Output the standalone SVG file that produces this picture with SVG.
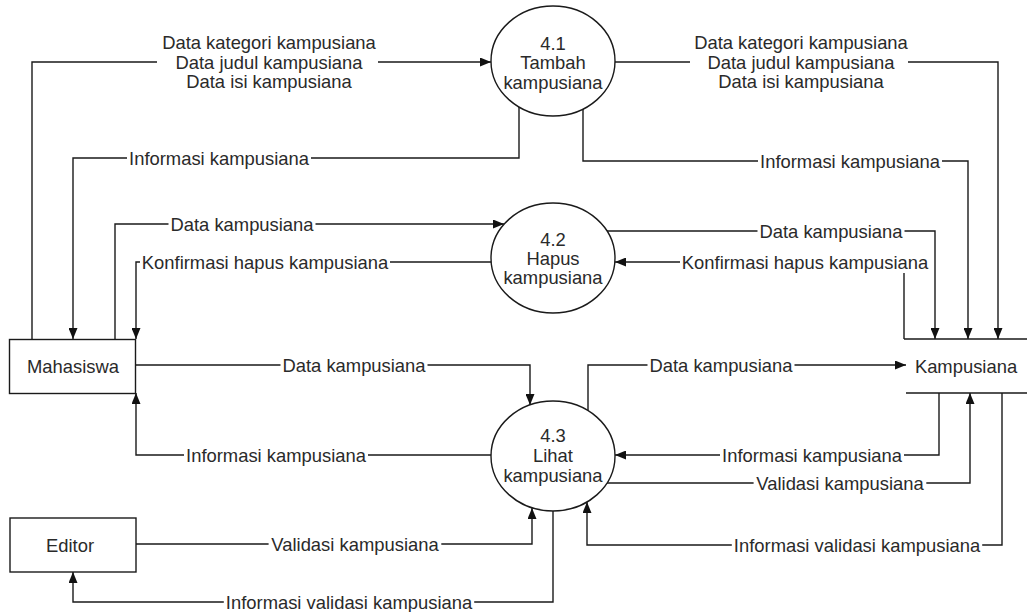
<svg xmlns="http://www.w3.org/2000/svg" width="1027" height="612" viewBox="0 0 1027 612">
<style>
.ln{fill:none;stroke:#1a1a1a;stroke-width:1.4}
.nd{fill:#fff;stroke:#1a1a1a;stroke-width:1.4}
.bg{fill:#fff}
.t{font-family:"Liberation Sans",Arial,sans-serif;font-size:18.4px;fill:#2a2a2a;text-anchor:middle}
</style>
<defs>
<marker id="ah" markerWidth="11" markerHeight="9" refX="11" refY="4.5" orient="auto" markerUnits="userSpaceOnUse"><path d="M0,0 L11,4.5 L0,9 z" fill="#111"/></marker>
</defs>
<rect width="1027" height="612" fill="#fff"/>
<g id="connectors">
<path class="ln" d="M32,339 V62 H157 M378,62 H491" marker-end="url(#ah)"/>
<path class="ln" d="M519,107 V158 H73 V339" marker-end="url(#ah)"/>
<path class="ln" d="M615,62 H690 M908,62 H998 V339" marker-end="url(#ah)"/>
<path class="ln" d="M583,109 V161 H968 V339" marker-end="url(#ah)"/>
<path class="ln" d="M115,339 V224 H504" marker-end="url(#ah)"/>
<path class="ln" d="M491,262 H136 V339" marker-end="url(#ah)"/>
<path class="ln" d="M607,231 H935 V339" marker-end="url(#ah)"/>
<path class="ln" d="M904,339 V262 H615" marker-end="url(#ah)"/>
<path class="ln" d="M136,365 H530 V405" marker-end="url(#ah)"/>
<path class="ln" d="M588,411 V365 H906" marker-end="url(#ah)"/>
<path class="ln" d="M491,455 H136 V393" marker-end="url(#ah)"/>
<path class="ln" d="M939,393 V455 H615" marker-end="url(#ah)"/>
<path class="ln" d="M607,483 H970 V393" marker-end="url(#ah)"/>
<path class="ln" d="M1002,393 V545 H587 V502" marker-end="url(#ah)"/>
<path class="ln" d="M136,544 H532 V508" marker-end="url(#ah)"/>
<path class="ln" d="M553,511 V602 H73 V572" marker-end="url(#ah)"/>
<g id="label-bg">
<rect class="bg" x="127" y="153" width="184" height="10"/>
<rect class="bg" x="758" y="156" width="184" height="10"/>
<rect class="bg" x="168.5" y="219" width="147" height="10"/>
<rect class="bg" x="140" y="257" width="250" height="10"/>
<rect class="bg" x="757.5" y="226" width="147" height="10"/>
<rect class="bg" x="680" y="255" width="250" height="18"/>
<rect class="bg" x="280.5" y="360" width="147" height="10"/>
<rect class="bg" x="647.5" y="360" width="147" height="10"/>
<rect class="bg" x="184" y="450" width="184" height="10"/>
<rect class="bg" x="720" y="450" width="184" height="10"/>
<rect class="bg" x="753.6" y="478" width="172.7" height="10"/>
<rect class="bg" x="731.8" y="540" width="250.4" height="10"/>
<rect class="bg" x="268.6" y="539" width="172.7" height="10"/>
<rect class="bg" x="223.8" y="597" width="250.4" height="10"/>
</g>
<g class="t">
<text x="269" y="49">Data kategori kampusiana</text>
<text x="269" y="68.5">Data judul kampusiana</text>
<text x="269" y="88">Data isi kampusiana</text>
<text x="801" y="49">Data kategori kampusiana</text>
<text x="801" y="68.5">Data judul kampusiana</text>
<text x="801" y="88">Data isi kampusiana</text>
<text x="219" y="164.5">Informasi kampusiana</text>
<text x="850" y="167.5">Informasi kampusiana</text>
<text x="242" y="230.5">Data kampusiana</text>
<text x="265" y="268.5">Konfirmasi hapus kampusiana</text>
<text x="831" y="237.5">Data kampusiana</text>
<text x="805" y="268.5">Konfirmasi hapus kampusiana</text>
<text x="354" y="371.5">Data kampusiana</text>
<text x="721" y="371.5">Data kampusiana</text>
<text x="276" y="461.5">Informasi kampusiana</text>
<text x="812" y="461.5">Informasi kampusiana</text>
<text x="840" y="489.5">Validasi kampusiana</text>
<text x="857" y="551.5">Informasi validasi kampusiana</text>
<text x="355" y="550.5">Validasi kampusiana</text>
<text x="349" y="608.5">Informasi validasi kampusiana</text>
</g>
</g>
<g id="p41">
<ellipse class="nd" cx="553" cy="61" rx="62" ry="55"/>
<text class="t" x="553" y="49.5">4.1</text>
<text class="t" x="553" y="68.5">Tambah</text>
<text class="t" x="553" y="88.5">kampusiana</text>
</g>
<g id="p42">
<ellipse class="nd" cx="553" cy="258" rx="62" ry="55"/>
<text class="t" x="553" y="245.5">4.2</text>
<text class="t" x="553" y="264.5">Hapus</text>
<text class="t" x="553" y="283.5">kampusiana</text>
</g>
<g id="p43">
<ellipse class="nd" cx="553" cy="456" rx="62" ry="55"/>
<text class="t" x="553" y="441.5">4.3</text>
<text class="t" x="553" y="461.5">Lihat</text>
<text class="t" x="553" y="481.5">kampusiana</text>
</g>
<g id="mahasiswa">
<rect class="nd" x="9.5" y="339.5" width="126" height="54"/>
<text class="t" x="73" y="372.5">Mahasiswa</text>
</g>
<g id="editor">
<rect class="nd" x="10" y="518" width="126" height="54"/>
<text class="t" x="70" y="551.5">Editor</text>
</g>
<g id="kampusiana">
<path class="ln" d="M904,339 H1027 M906,393 H1027"/>
<text class="t" x="966" y="372.5">Kampusiana</text>
</g>
</svg>
